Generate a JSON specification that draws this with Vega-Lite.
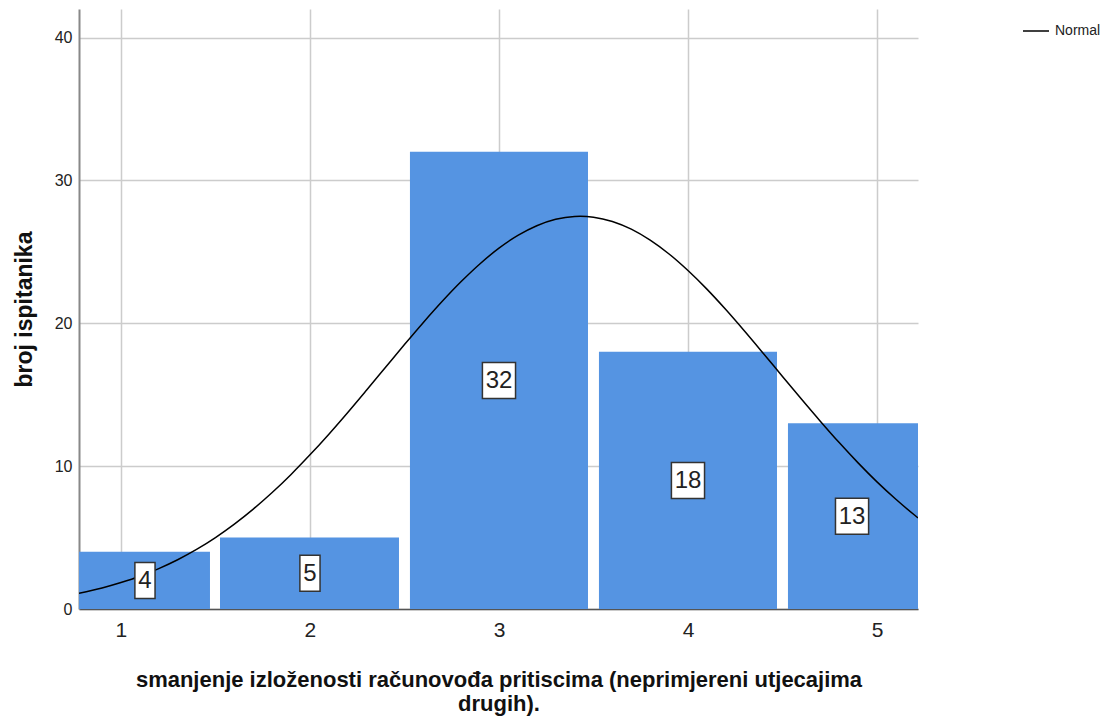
{
  "$schema": "https://vega.github.io/schema/vega-lite/v6.json",
  "width": 839,
  "height": 600,
  "autosize": "none",
  "padding": {"left": 79, "top": 9, "right": 186, "bottom": 107},
  "background": "white",
  "config": {"view": {"stroke": null}, "font": "Liberation Sans"},
  "datasets": {
    "bars": [
      {"value": 1, "count": 4, "x0": 0.778, "x1": 1.471, "mid": 1.127},
      {"value": 2, "count": 5, "x0": 1.524, "x1": 2.471, "mid": 2},
      {"value": 3, "count": 32, "x0": 2.529, "x1": 3.471, "mid": 3},
      {"value": 4, "count": 18, "x0": 3.529, "x1": 4.471, "mid": 4},
      {"value": 5, "count": 13, "x0": 4.529, "x1": 5.217, "mid": 4.868}
    ],
    "curve": [
      {"x": 0.778, "y": 1.10}, {"x": 0.9, "y": 1.47}, {"x": 1.0, "y": 1.85}, {"x": 1.1, "y": 2.29},
      {"x": 1.2, "y": 2.83}, {"x": 1.3, "y": 3.45}, {"x": 1.4, "y": 4.17}, {"x": 1.5, "y": 5.00},
      {"x": 1.6, "y": 5.94}, {"x": 1.7, "y": 6.99}, {"x": 1.8, "y": 8.15}, {"x": 1.9, "y": 9.42},
      {"x": 2.0, "y": 10.79}, {"x": 2.1, "y": 12.24}, {"x": 2.2, "y": 13.76}, {"x": 2.3, "y": 15.33},
      {"x": 2.4, "y": 16.92}, {"x": 2.5, "y": 18.51}, {"x": 2.6, "y": 20.06}, {"x": 2.7, "y": 21.54},
      {"x": 2.8, "y": 22.92}, {"x": 2.9, "y": 24.17}, {"x": 3.0, "y": 25.26}, {"x": 3.1, "y": 26.15},
      {"x": 3.2, "y": 26.83}, {"x": 3.3, "y": 27.28}, {"x": 3.4, "y": 27.48}, {"x": 3.43, "y": 27.49},
      {"x": 3.5, "y": 27.43}, {"x": 3.6, "y": 27.13}, {"x": 3.7, "y": 26.59}, {"x": 3.8, "y": 25.82},
      {"x": 3.9, "y": 24.85}, {"x": 4.0, "y": 23.69}, {"x": 4.1, "y": 22.39}, {"x": 4.2, "y": 20.96},
      {"x": 4.3, "y": 19.44}, {"x": 4.4, "y": 17.87}, {"x": 4.5, "y": 16.28}, {"x": 4.6, "y": 14.70},
      {"x": 4.7, "y": 13.15}, {"x": 4.8, "y": 11.65}, {"x": 4.9, "y": 10.23}, {"x": 5.0, "y": 8.90},
      {"x": 5.1, "y": 7.68}, {"x": 5.2, "y": 6.56}, {"x": 5.217, "y": 6.38}
    ]
  },
  "layer": [
    {
      "data": {"name": "bars"},
      "mark": {"type": "bar", "color": "#5594e2", "clip": true},
      "encoding": {
        "x": {
          "field": "x0", "type": "quantitative",
          "scale": {"domain": [0.778, 5.217], "nice": false, "zero": false},
          "axis": {
            "values": [1, 2, 3, 4, 5], "format": "d", "grid": true, "gridColor": "#cccccc", "gridWidth": 1.5,
            "ticks": false, "labelFontSize": 21, "labelPadding": 10, "labelColor": "#222222",
            "domainColor": "#555555", "domainWidth": 1.5,
            "title": ["smanjenje izloženosti računovođa pritiscima (neprimjereni utjecajima", "drugih)."],
            "titleFontSize": 22, "titleFontWeight": "bold", "titlePadding": 29, "titleColor": "#111111", "titleLineHeight": 24
          }
        },
        "x2": {"field": "x1"},
        "y": {
          "field": "count", "type": "quantitative",
          "scale": {"domain": [0, 42], "nice": false},
          "axis": {
            "values": [0, 10, 20, 30, 40], "grid": true, "gridColor": "#cccccc", "gridWidth": 1.5,
            "ticks": false, "labelFontSize": 16, "labelPadding": 7, "labelColor": "#222222",
            "domainColor": "#888888", "domainWidth": 2,
            "title": "broj ispitanika", "titleFontSize": 23, "titleFontWeight": "bold", "titlePadding": 18, "titleColor": "#111111"
          }
        },
        "y2": {"datum": 0}
      }
    },
    {
      "data": {"name": "curve"},
      "mark": {"type": "line", "strokeWidth": 1.5, "interpolate": "monotone", "clip": true},
      "encoding": {
        "x": {"field": "x", "type": "quantitative"},
        "y": {"field": "y", "type": "quantitative", "scale": {"domain": [0, 42], "nice": false}, "axis": null},
        "color": {
          "datum": "Normal", "type": "nominal",
          "scale": {"range": ["#000000"]},
          "legend": {
            "title": null, "orient": "none", "legendX": 943, "legendY": 8,
            "symbolType": "stroke", "symbolSize": 676, "symbolStrokeWidth": 1.5, "symbolStrokeColor": "#000000",
            "labelFontSize": 14, "labelColor": "#222222", "labelOffset": 5
          }
        }
      }
    },
    {
      "data": {"name": "bars"},
      "encoding": {
        "x": {"field": "mid", "type": "quantitative"},
        "y": {"field": "count", "type": "quantitative", "scale": {"domain": [0, 84], "nice": false}, "axis": null}
      },
      "layer": [
        {
          "mark": {"type": "point", "filled": true, "fill": "white", "stroke": "#333333", "strokeWidth": 1.5, "opacity": 1, "size": 1296},
          "encoding": {
            "shape": {
              "condition": {"test": "datum.count >= 10", "value": "M-0.92,-1H0.92V1H-0.92Z"},
              "value": "M-0.56,-1H0.56V1H-0.56Z"
            }
          }
        },
        {
          "mark": {"type": "text", "fontSize": 24, "color": "#222222", "baseline": "middle", "align": "center", "dy": 1},
          "encoding": {"text": {"field": "count", "type": "quantitative"}}
        }
      ]
    }
  ],
  "resolve": {"scale": {"y": "independent"}}
}
